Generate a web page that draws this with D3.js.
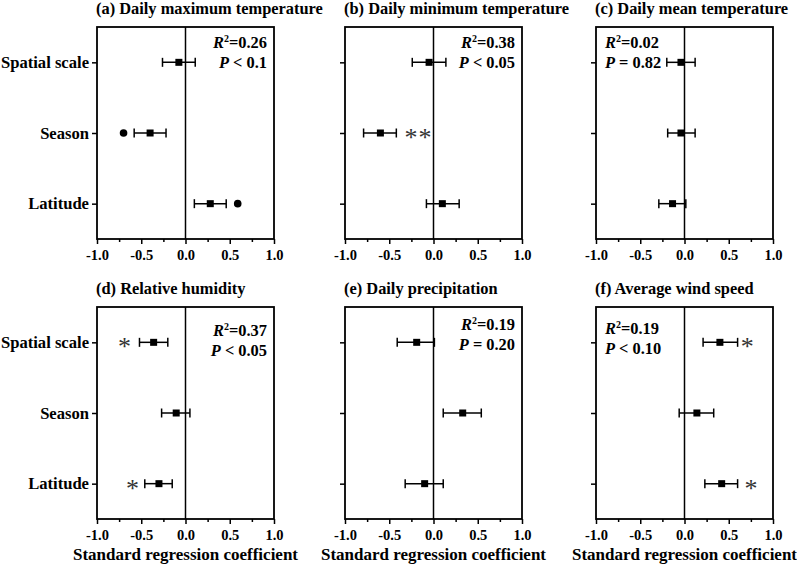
<!DOCTYPE html>
<html>
<head>
<meta charset="utf-8">
<script src="https://cdn.jsdelivr.net/npm/d3@7"></script>
<style>
  body { margin: 0; background: #fff; }
  svg { display: block; }
  svg text { font-family: "Liberation Serif", "Times New Roman", Times, "DejaVu Serif", "Noto Serif", serif !important; font-weight: bold; }
  svg text.star { font-weight: normal; }
</style>
</head>
<body>
<svg id="chart" width="797" height="573"></svg>
<script>
// ---- data ----
const categories = ["Spatial scale", "Season", "Latitude"];
const titles = [
  "(a) Daily maximum temperature",
  "(b) Daily minimum temperature",
  "(c) Daily mean temperature",
  "(d) Relative humidity",
  "(e) Daily precipitation",
  "(f) Average wind speed"
];
// standardized coefficients per panel, in category order
const coef = [
  [-0.075, -0.40, 0.28],
  [-0.05, -0.60, 0.10],
  [-0.04, -0.04, -0.135],
  [-0.36, -0.105, -0.30],
  [-0.19, 0.33, -0.10],
  [0.40, 0.14, 0.42]
];
const lower = [
  [-0.26, -0.58, 0.10],
  [-0.24, -0.79, -0.08],
  [-0.20, -0.19, -0.29],
  [-0.52, -0.27, -0.46],
  [-0.41, 0.11, -0.32],
  [0.21, -0.06, 0.23]
];
const upper = [
  [0.11, -0.22, 0.46],
  [0.14, -0.42, 0.29],
  [0.12, 0.12, 0.015],
  [-0.20, 0.05, -0.15],
  [0.01, 0.54, 0.11],
  [0.60, 0.33, 0.60]
];
const r2Values = ["0.26", "0.38", "0.02", "0.37", "0.19", "0.19"];
const pValues = ["< 0.1", "< 0.05", "= 0.82", "< 0.05", "= 0.20", "< 0.10"];
// extra markers: [panel, category, x value, type]
const dotMarks = [
  [0, "Season", -0.70],
  [0, "Latitude", 0.59]
];
const starMarks = [
  [1, "Season", -0.17, "**"],
  [3, "Spatial scale", -0.69, "*"],
  [3, "Latitude", -0.60, "*"],
  [5, "Spatial scale", 0.71, "*"],
  [5, "Latitude", 0.75, "*"]
];
const majorTicks = [-1, -0.5, 0, 0.5, 1];
const minorTicks = [-0.75, -0.25, 0.25, 0.75];
const xLabel = "Standard regression coefficient";

// ---- layout ----
const FONT = '"Liberation Serif", "Times New Roman", Times, "DejaVu Serif", "Noto Serif", serif';
const colLeft = [97, 345, 596];
const rowTop = [27, 307];
const pw = 177, ph = 212;
const statAlign = ["end", "end", "start", "end", "end", "start"];
const statDy = [21, 21, 21, 29, 23, 27];

const svg = d3.select("#chart").attr("font-family", FONT);

titles.forEach((title, i) => {
  const col = i % 3, row = Math.floor(i / 3);
  const left = colLeft[col], top = rowTop[row];
  const x = d3.scaleLinear().domain([-1, 1]).range([left, left + pw]);
  const y = d3.scalePoint().domain(categories).range([top, top + ph]).padding(0.5);
  const g = svg.append("g");

  // title
  g.append("text")
    .attr("x", left - 1).attr("y", top - 13)
    .attr("font-family", FONT)
    .attr("font-size", 16.4)
    .text(title);

  // x axis major
  const xa = g.append("g")
    .attr("transform", `translate(0,${top + ph})`)
    .call(d3.axisBottom(x).tickValues(majorTicks).tickSize(5).tickPadding(6)
      .tickFormat(d => d.toFixed(1)));
  xa.attr("font-family", FONT);
  xa.select(".domain").remove();
  xa.selectAll("line").attr("stroke", "#000").attr("stroke-width", 1.5);
  xa.selectAll("text").attr("font-size", 14.5).attr("fill", "#000").attr("font-family", FONT);
  // x axis minor
  const xm = g.append("g")
    .attr("transform", `translate(0,${top + ph})`)
    .call(d3.axisBottom(x).tickValues(minorTicks).tickSize(3).tickFormat(""));
  xm.select(".domain").remove();
  xm.selectAll("line").attr("stroke", "#000").attr("stroke-width", 1.5);

  // y axis
  const ya = g.append("g")
    .attr("transform", `translate(${left},0)`)
    .call(d3.axisLeft(y).tickSize(5).tickPadding(3)
      .tickFormat(col === 0 ? (d => d) : ""));
  ya.attr("font-family", FONT);
  ya.select(".domain").remove();
  ya.selectAll("line").attr("stroke", "#000").attr("stroke-width", 1.5);
  ya.selectAll("text").attr("font-size", 16.6).attr("fill", "#000").attr("font-family", FONT);

  // frame
  g.append("rect")
    .attr("x", left).attr("y", top).attr("width", pw).attr("height", ph)
    .attr("fill", "none").attr("stroke", "#000").attr("stroke-width", 1.8);
  // zero line
  g.append("line")
    .attr("x1", x(0)).attr("x2", x(0)).attr("y1", top).attr("y2", top + ph)
    .attr("stroke", "#000").attr("stroke-width", 1.5);

  // error bars
  categories.forEach((c, j) => {
    const cy = y(c);
    g.append("line")
      .attr("x1", x(lower[i][j])).attr("x2", x(upper[i][j]))
      .attr("y1", cy).attr("y2", cy)
      .attr("stroke", "#000").attr("stroke-width", 1.5);
    [lower[i][j], upper[i][j]].forEach(v => {
      g.append("line")
        .attr("x1", x(v)).attr("x2", x(v))
        .attr("y1", cy - 4.5).attr("y2", cy + 4.5)
        .attr("stroke", "#000").attr("stroke-width", 1.5);
    });
    g.append("rect")
      .attr("x", x(coef[i][j]) - 3.5).attr("y", cy - 3.5)
      .attr("width", 7).attr("height", 7).attr("fill", "#000");
  });

  // dot markers
  dotMarks.filter(m => m[0] === i).forEach(m => {
    g.append("circle").attr("cx", x(m[2])).attr("cy", y(m[1])).attr("r", 3.8).attr("fill", "#000");
  });
  // star markers
  starMarks.filter(m => m[0] === i).forEach(m => {
    g.append("text")
      .attr("class", "star")
      .attr("x", x(m[2])).attr("y", y(m[1]) + 13)
      .attr("text-anchor", "middle")
      .attr("font-family", FONT)
      .attr("font-size", 26).attr("fill", "#333")
      .attr("letter-spacing", m[3].length > 1 ? 1 : 0)
      .text(m[3]);
  });

  // stats text
  const sx = statAlign[i] === "end" ? left + pw - 7 : left + 9;
  const t1 = g.append("text")
    .attr("x", sx).attr("y", top + statDy[i])
    .attr("font-family", FONT)
    .attr("text-anchor", statAlign[i]).attr("font-size", 16.4);
  t1.append("tspan").style("font-style", "italic").text("R");
  t1.append("tspan").attr("font-size", 10).attr("dy", -6).text("2");
  t1.append("tspan").attr("dy", 6).text("=" + r2Values[i]);
  const t2 = g.append("text")
    .attr("x", sx).attr("y", top + statDy[i] + 20)
    .attr("font-family", FONT)
    .attr("text-anchor", statAlign[i]).attr("font-size", 16.4);
  t2.append("tspan").style("font-style", "italic").text("P");
  t2.append("tspan").text(" " + pValues[i]);

  // x label (bottom row)
  if (row === 1) {
    g.append("text")
      .attr("x", left + pw / 2).attr("y", 560)
      .attr("font-family", FONT)
      .attr("text-anchor", "middle").attr("font-size", 17)
      .text(xLabel);
  }
});
</script>
</body>
</html>
